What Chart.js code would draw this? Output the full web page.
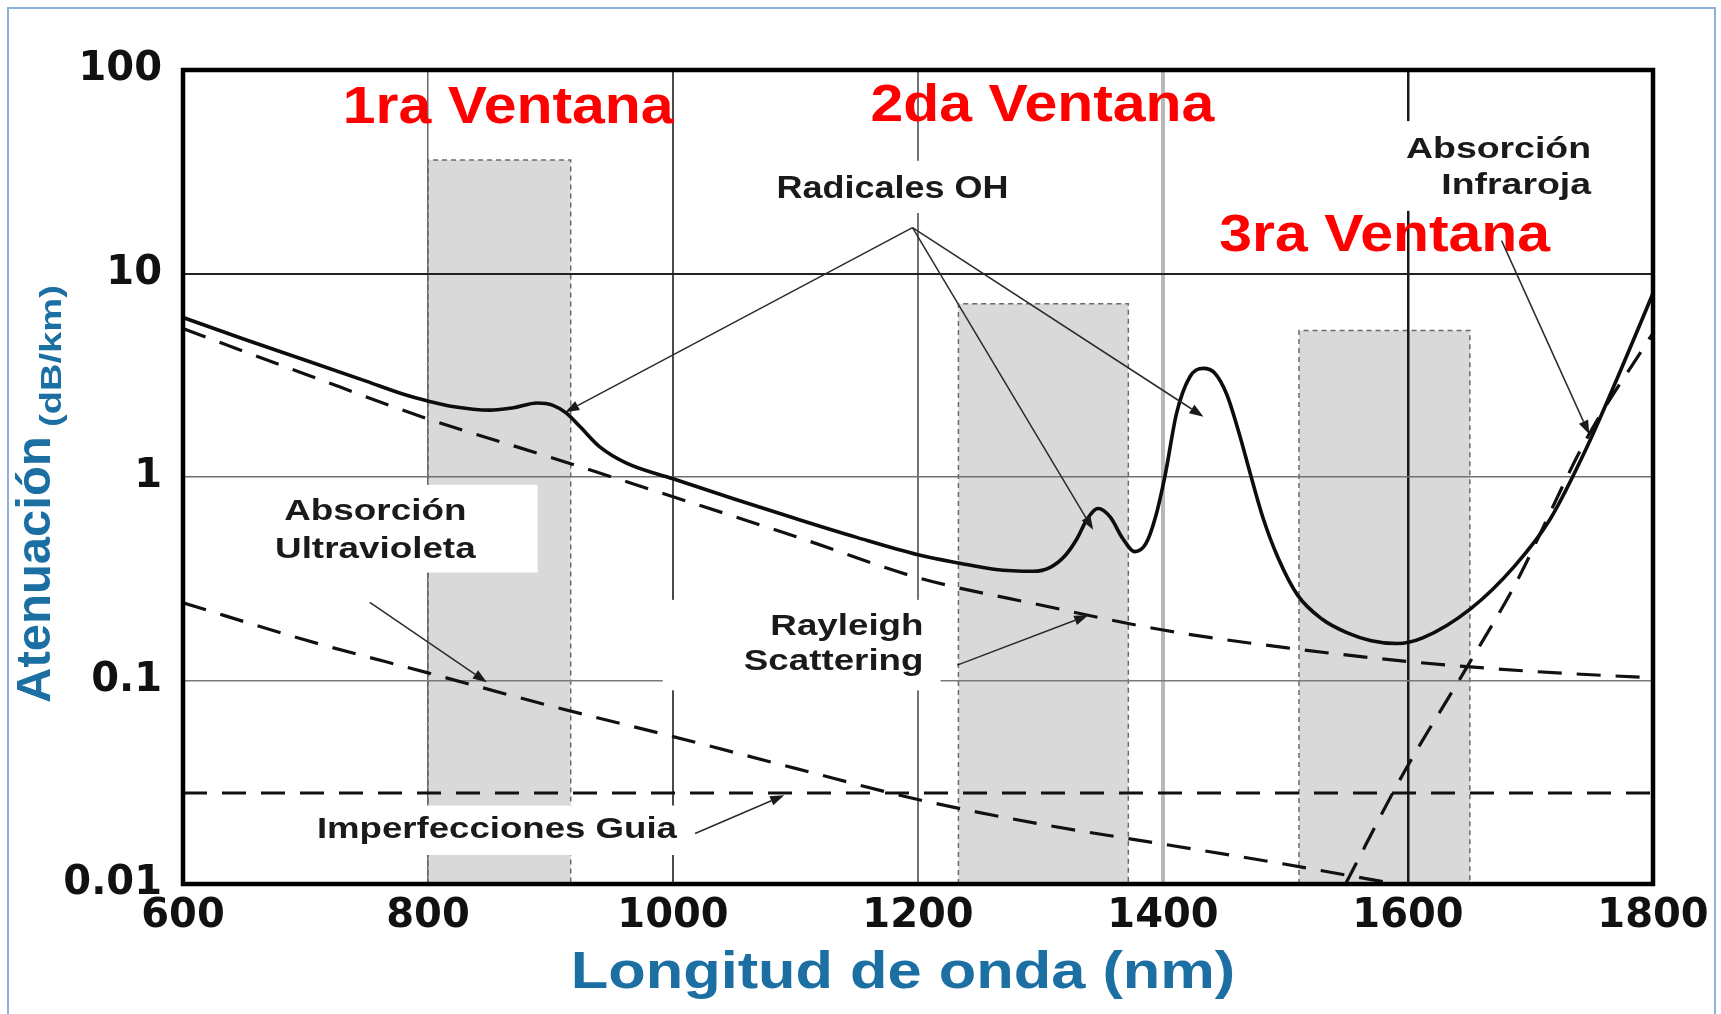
<!DOCTYPE html>
<html>
<head>
<meta charset="utf-8">
<script src="https://cdn.jsdelivr.net/npm/chart.js@4.4.1/dist/chart.umd.min.js"></script>
<style>
html,body{margin:0;padding:0;background:#fff;}
#wrap{width:1721px;height:1014px;position:relative;}
</style>
</head>
<body>
<div id="wrap"><canvas id="c" width="1721" height="1014"></canvas></div>
<script>
// ---------------- data ----------------
const wavelengthTicks = [600, 800, 1000, 1200, 1400, 1600, 1800];
const attenuationTicks = [0.01, 0.1, 1, 10, 100];
const attenuationTickLabels = ['0.01', '0.1', '1', '10', '100'];

const totalX = [600, 650, 700, 750, 780, 800, 820, 850, 870, 889, 902, 913, 924, 940, 962, 1000, 1050, 1100, 1150, 1200, 1234, 1262, 1294, 1308, 1320, 1330, 1338, 1347, 1357, 1367, 1377, 1386, 1394, 1402, 1411, 1422, 1433, 1442, 1452, 1462, 1472, 1482, 1494, 1510, 1530, 1550, 1570, 1591, 1612, 1651, 1687, 1716, 1746, 1775, 1800];
const totalY = [6.08, 4.75, 3.75, 2.95, 2.55, 2.36, 2.22, 2.13, 2.19, 2.31, 2.25, 2.06, 1.77, 1.41, 1.17, 0.98, 0.78, 0.625, 0.505, 0.415, 0.377, 0.352, 0.344, 0.36, 0.41, 0.50, 0.62, 0.70, 0.635, 0.50, 0.43, 0.47, 0.64, 1.04, 2.05, 3.11, 3.42, 3.25, 2.55, 1.65, 1.0, 0.62, 0.40, 0.262, 0.200, 0.172, 0.157, 0.152, 0.162, 0.225, 0.365, 0.62, 1.4, 3.5, 8.0];

const rayleighX = [600, 700, 800, 900, 1000, 1100, 1200, 1300, 1400, 1500, 1600, 1700, 1800];
const rayleighY = [5.36, 3.2, 1.93, 1.25, 0.80, 0.51, 0.32, 0.235, 0.177, 0.145, 0.124, 0.111, 0.103];

const uvX = [600, 700, 800, 900, 1000, 1100, 1200, 1300, 1400, 1500, 1590];
const uvY = [0.241, 0.158, 0.109, 0.075, 0.053, 0.037, 0.026, 0.0197, 0.0157, 0.0125, 0.0100];

const guideX = [600, 1800];
const guideY = [0.028, 0.028];

const irX = [1549, 1597, 1648, 1687, 1746, 1800];
const irY = [0.010, 0.0356, 0.116, 0.293, 1.55, 5.1];

const windowLabels = ['1ra Ventana', '2da Ventana', '3ra Ventana'];
const windowStart = [800, 1233, 1511];
const windowEnd = [916.5, 1371.7, 1650.5];
const windowTop = [36.1, 7.1, 5.24];
const windowLabelX = [730.5, 1161.3, 1446];
const windowLabelY = [54.9, 56.2, 12.93];

const noteLines = [['Radicales OH'], ['Absorción', 'Infraroja'], ['Absorción', 'Ultravioleta'], ['Rayleigh', 'Scattering'], ['Imperfecciones Guia']];
const noteX = [1179.2, 1749.4, 757, 1204.5, 709.3];
const noteY = [23.5, 37.0, 0.618, 0.1667, 0.01683];

const arrowFromX = [1195.5, 1195.5, 1195.5, 1676.4, 752.5, 1232, 1018];
const arrowFromY = [16.8, 16.8, 16.8, 14.5, 0.242, 0.119, 0.0177];
const arrowToX = [912, 1343, 1433, 1748, 848, 1339, 1090.8];
const arrowToY = [2.08, 0.55, 1.98, 1.62, 0.098, 0.209, 0.0273];

const xTitle = 'Longitud de onda (nm)';
const yTitleMain = 'Atenuación';
const yTitleUnit = '(dB/km)';

// ---------------- styles ----------------
const AX_BLUE = '#1b6fa3';
const ARIAL = '"Liberation Sans", Arial, sans-serif';
const noteStyle = [
  {align: 'center', size: 31, sx: 1.16, lh: 0, pad: [12, 12, 15, 15]},
  {align: 'right', size: 29, sx: 1.29, lh: 36, pad: [12, 10, 16, 17]},
  {align: 'center', size: 29, sx: 1.27, lh: 38, pad: [62, 62, 14, 15]},
  {align: 'right', size: 30, sx: 1.225, lh: 35, pad: [81, 17, 14, 20]},
  {align: 'left', size: 30, sx: 1.22, lh: 0, pad: [16, 15, 11, 17]}
];
const xGridStyle = {600: ['rgba(0,0,0,0)', 1], 800: ['#6a6a6a', 1.5], 1000: ['#4a4a4a', 2], 1200: ['#737373', 2], 1400: ['#b8b8b8', 4], 1600: ['#1a1a1a', 2.5], 1800: ['rgba(0,0,0,0)', 1]};
const yGridStyle = ['rgba(0,0,0,0)', '#7a7a7a', '#707070', '#222222', 'rgba(0,0,0,0)'];
const yGridWidth = [1, 1.5, 1.5, 2, 1];

function pts(xs, ys) { return xs.map((x, i) => ({x: x, y: ys[i]})); }

function sText(ctx, text, x, y, sx, align) {
  ctx.save();
  ctx.translate(x, y);
  ctx.scale(sx, 1);
  ctx.textAlign = align;
  ctx.textBaseline = 'alphabetic';
  ctx.fillText(text, 0, 0);
  ctx.restore();
}

function arrowHead(ctx, x1, y1, x2, y2) {
  const a = Math.atan2(y2 - y1, x2 - x1), L = 14, W = 5;
  const bx = x2 - L * Math.cos(a), by = y2 - L * Math.sin(a);
  ctx.beginPath();
  ctx.moveTo(x1, y1);
  ctx.lineTo(bx, by);
  ctx.stroke();
  ctx.beginPath();
  ctx.moveTo(x2, y2);
  ctx.lineTo(bx + W * Math.sin(a), by - W * Math.cos(a));
  ctx.lineTo(bx - W * Math.sin(a), by + W * Math.cos(a));
  ctx.closePath();
  ctx.fill();
}

const decor = {
  id: 'decor',
  beforeDraw(chart) {
    const ctx = chart.ctx, xs = chart.scales.x, ys = chart.scales.y, a = chart.chartArea;
    ctx.save();
    ctx.fillStyle = '#ffffff';
    ctx.fillRect(0, 0, chart.width, chart.height);
    ctx.strokeStyle = '#8fb1d9';
    ctx.lineWidth = 2;
    ctx.beginPath();
    ctx.moveTo(8, 1020); ctx.lineTo(8, 8); ctx.lineTo(1715, 8); ctx.lineTo(1715, 1020);
    ctx.stroke();
    for (let i = 0; i < windowStart.length; i++) {
      const l = xs.getPixelForValue(windowStart[i]);
      const r = xs.getPixelForValue(windowEnd[i]);
      const t = ys.getPixelForValue(windowTop[i]);
      const b = a.bottom;
      ctx.fillStyle = '#d9d9d9';
      ctx.fillRect(l, t, r - l, b - t);
      ctx.strokeStyle = '#6a6a6a';
      ctx.lineWidth = 1.5;
      ctx.setLineDash([5, 4]);
      ctx.beginPath();
      ctx.moveTo(l, b); ctx.lineTo(l, t); ctx.lineTo(r, t); ctx.lineTo(r, b);
      ctx.stroke();
      ctx.setLineDash([]);
    }
    ctx.restore();
  },
  beforeDatasetsDraw(chart) {
    const ctx = chart.ctx, xs = chart.scales.x, ys = chart.scales.y;
    ctx.save();
    for (let i = 0; i < noteLines.length; i++) {
      const st = noteStyle[i];
      ctx.font = 'bold ' + st.size + 'px ' + ARIAL;
      const ax = xs.getPixelForValue(noteX[i]);
      const ay = ys.getPixelForValue(noteY[i]);
      let w = 0;
      noteLines[i].forEach(s => { w = Math.max(w, ctx.measureText(s).width * st.sx); });
      const left = st.align === 'left' ? ax : st.align === 'right' ? ax - w : ax - w / 2;
      const capH = st.size * 0.716;
      const top = ay - capH - st.pad[2];
      const bottom = ay + st.lh * (noteLines[i].length - 1) + st.pad[3];
      ctx.fillStyle = '#ffffff';
      ctx.fillRect(left - st.pad[0], top, w + st.pad[0] + st.pad[1], bottom - top);
      ctx.fillStyle = '#1a1a1a';
      noteLines[i].forEach((s, k) => sText(ctx, s, ax, ay + k * st.lh, st.sx, st.align));
    }
    ctx.fillStyle = '#ff0000';
    ctx.font = 'bold 51px ' + ARIAL;
    for (let i = 0; i < windowLabels.length; i++) {
      sText(ctx, windowLabels[i], xs.getPixelForValue(windowLabelX[i]), ys.getPixelForValue(windowLabelY[i]), 1.155, 'left');
    }
    ctx.restore();
  },
  afterDatasetsDraw(chart) {
    const ctx = chart.ctx, xs = chart.scales.x, ys = chart.scales.y, a = chart.chartArea;
    ctx.save();
    ctx.strokeStyle = '#2a2a2a';
    ctx.fillStyle = '#1a1a1a';
    ctx.lineWidth = 1.5;
    for (let i = 0; i < arrowFromX.length; i++) {
      arrowHead(ctx, xs.getPixelForValue(arrowFromX[i]), ys.getPixelForValue(arrowFromY[i]),
                xs.getPixelForValue(arrowToX[i]), ys.getPixelForValue(arrowToY[i]));
    }
    ctx.strokeStyle = '#000000';
    ctx.lineWidth = 4.5;
    ctx.strokeRect(a.left, a.top, a.right - a.left, a.bottom - a.top);
    ctx.restore();
  },
  afterDraw(chart) {
    const ctx = chart.ctx, a = chart.chartArea;
    ctx.save();
    ctx.fillStyle = AX_BLUE;
    ctx.font = 'bold 52px ' + ARIAL;
    sText(ctx, xTitle, (a.left + a.right) / 2 - 15, 988, 1.18, 'center');
    ctx.save();
    ctx.translate(50, 703);
    ctx.rotate(-Math.PI / 2);
    ctx.font = 'bold 49px ' + ARIAL;
    ctx.textAlign = 'left';
    ctx.fillText(yTitleMain, 0, 0);
    ctx.restore();
    ctx.save();
    ctx.translate(61, 427);
    ctx.rotate(-Math.PI / 2);
    ctx.scale(1.27, 1);
    ctx.font = 'bold 30px ' + ARIAL;
    ctx.textAlign = 'left';
    ctx.fillText(yTitleUnit, 0, 0);
    ctx.restore();
    ctx.restore();
  }
};

const dashed = {borderColor: '#111111', borderWidth: 3.2, borderDash: [24, 15], pointRadius: 0, fill: false, cubicInterpolationMode: 'monotone'};

new Chart(document.getElementById('c'), {
  type: 'line',
  data: {
    datasets: [
      Object.assign({label: 'Atenuación total', data: pts(totalX, totalY)}, {borderColor: '#0d0d0d', borderWidth: 3.6, pointRadius: 0, fill: false, cubicInterpolationMode: 'monotone'}),
      Object.assign({label: 'Rayleigh Scattering', data: pts(rayleighX, rayleighY)}, dashed),
      Object.assign({label: 'Absorción Ultravioleta', data: pts(uvX, uvY)}, dashed),
      Object.assign({label: 'Imperfecciones Guia', data: pts(guideX, guideY)}, dashed),
      Object.assign({label: 'Absorción Infraroja', data: pts(irX, irY)}, dashed)
    ]
  },
  options: {
    responsive: false,
    animation: false,
    layout: {padding: {left: 0, top: 70, right: 68, bottom: 0}},
    plugins: {legend: {display: false}, tooltip: {enabled: false}, title: {display: false}},
    scales: {
      x: {
        type: 'linear', min: 600, max: 1800,
        afterBuildTicks: s => { s.ticks = wavelengthTicks.map(v => ({value: v})); },
        afterFit: s => { s.height = 130; },
        border: {display: false},
        grid: {
          drawTicks: false,
          color: c => (xGridStyle[c.tick && c.tick.value] || ['#666', 1])[0],
          lineWidth: c => (xGridStyle[c.tick && c.tick.value] || ['#666', 1])[1]
        },
        ticks: {
          padding: 9, color: '#111111', maxRotation: 0, autoSkip: false,
          font: {family: '"DejaVu Sans", Verdana, sans-serif', weight: 'bold', size: 40},
          callback: v => String(v)
        }
      },
      y: {
        type: 'logarithmic', min: 0.01, max: 100,
        afterBuildTicks: s => { s.ticks = attenuationTicks.map(v => ({value: v})); },
        afterFit: s => { s.width = 183; },
        border: {display: false},
        grid: {
          drawTicks: false,
          color: c => yGridStyle[c.index] || '#666',
          lineWidth: c => yGridWidth[c.index] || 1
        },
        ticks: {
          padding: 21, color: '#111111', autoSkip: false,
          font: {family: '"DejaVu Sans", Verdana, sans-serif', weight: 'bold', size: 40},
          callback: (v, i) => attenuationTickLabels[i]
        }
      }
    }
  },
  plugins: [decor]
});
</script>
</body>
</html>
